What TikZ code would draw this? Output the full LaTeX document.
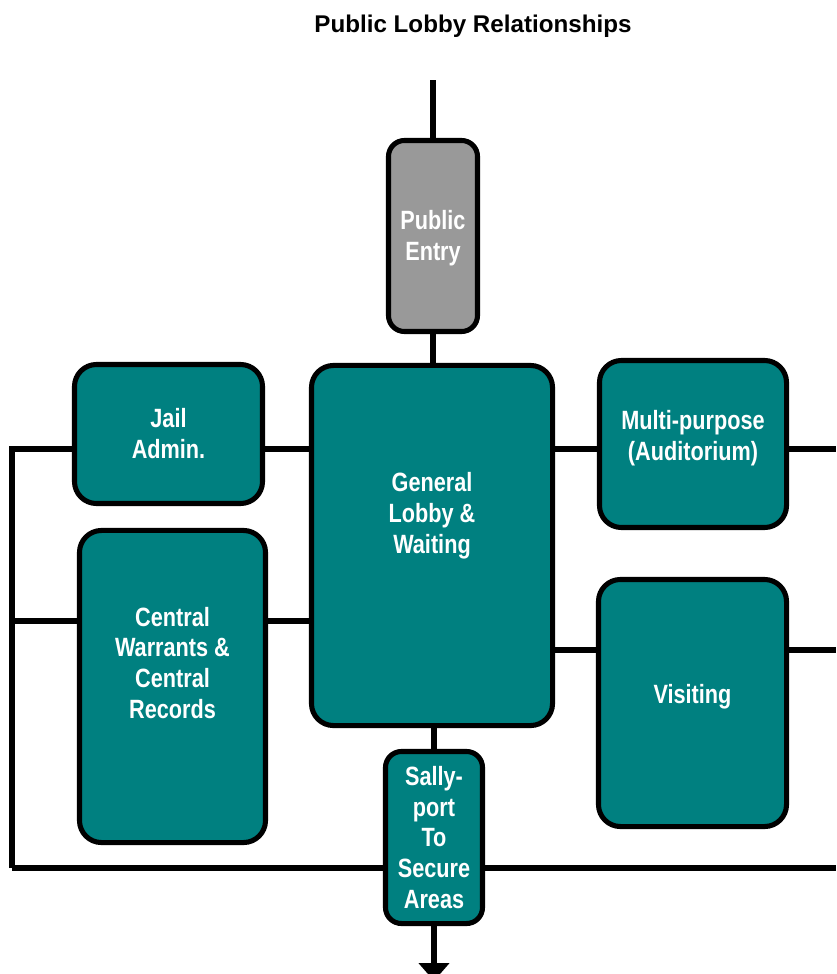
\documentclass[tikz,border=0pt]{standalone}
\usepackage{fontspec}
\setmainfont{Liberation Sans}
\newfontfamily\boxfont{Liberation Sans}[FakeStretch=0.82]
\usetikzlibrary{arrows.meta}
\definecolor{lobbyteal}{RGB}{0,128,128}
\definecolor{entrygray}{RGB}{153,153,153}

\begin{document}
\begin{tikzpicture}[x=0.025cm,y=-0.025cm,
  room/.style={draw=black,line width=3.6pt,fill=lobbyteal,rounded corners=0.55cm,
    inner sep=0pt,text=white,align=center,
    font=\boxfont\bfseries\fontsize{18.8}{22}\selectfont},
  roomtext/.style={text=white,align=center,inner sep=0pt,
    font=\boxfont\bfseries\fontsize{18.8}{22}\selectfont},
  link/.style={line width=3.6pt}]
\useasboundingbox (0,0) rectangle (836,974);
% title
\node[anchor=base,font=\bfseries\fontsize{17.2}{20}\selectfont] (title) at (473,32) {Public Lobby Relationships};
% corridor corners
\coordinate (topend) at (433,80);
\coordinate (cnrtop) at (12,449);
\coordinate (cnrmid) at (12,621);
\coordinate (cnrbot) at (12,868);
\coordinate (rtop) at (836,449);
\coordinate (rmid) at (836,650);
\coordinate (rbot) at (836,868);
\coordinate (arrowend) at (434,981);
% rooms
\node[room,fill=entrygray,rounded corners=0.4cm,minimum width=2.225cm,minimum height=4.775cm] (entry) at (433,236) {};
\node[roomtext] (entrytxt) at (433,238) {Public\\Entry};
\node[room,minimum width=6.025cm,minimum height=9cm] (lobby) at (432,545.5) {};
\node[roomtext] (lobbytxt) at (432,516) {General\\Lobby \&\\Waiting};
\node[room,minimum width=4.7cm,minimum height=3.475cm] (jail) at (168.5,434) {Jail\\Admin.};
\node[room,minimum width=4.65cm,minimum height=7.8cm] (warrants) at (172.5,686.5) {};
\node[roomtext] (warrantstxt) at (172.5,663) {Central\\Warrants \&\\Central\\Records};
\node[room,minimum width=4.675cm,minimum height=4.175cm] (multi) at (693,444) {};
\node[roomtext] (multitxt) at (693,438) {Multi-purpose\\(Auditorium)};
\node[room,minimum width=4.7cm,minimum height=6.175cm] (visit) at (692.5,703) {};
\node[roomtext] (visittxt) at (692.5,697) {Visiting};
\node[room,rounded corners=0.4cm,minimum width=2.425cm,minimum height=4.3cm] (sally) at (434,837.5) {Sally-\\port\\To\\Secure\\Areas};
% vertical spine
\draw[link] (topend) -- (entry.north);
\draw[link] (entry.south) -- (entry.south |- lobby.north);
\draw[link] (lobby.south -| sally.north) -- (sally.north);
\draw[link,-{Triangle[width=0.75cm,length=0.45cm]}] (sally.south) -- (arrowend);
% left side
\draw[link] (cnrbot) -- (cnrtop) -- (jail.west |- cnrtop);
\draw[link] (jail.east |- cnrtop) -- (lobby.west |- cnrtop);
\draw[link] (cnrmid) -- (warrants.west |- cnrmid);
\draw[link] (warrants.east |- cnrmid) -- (lobby.west |- cnrmid);
% bottom corridor
\draw[link] (cnrbot) -- (sally.west |- cnrbot);
\draw[link] (sally.east |- cnrbot) -- (rbot);
% right side
\draw[link] (lobby.east |- rtop) -- (multi.west |- rtop);
\draw[link] (multi.east |- rtop) -- (rtop);
\draw[link] (lobby.east |- rmid) -- (visit.west |- rmid);
\draw[link] (visit.east |- rmid) -- (rmid);
\end{tikzpicture}
\end{document}
